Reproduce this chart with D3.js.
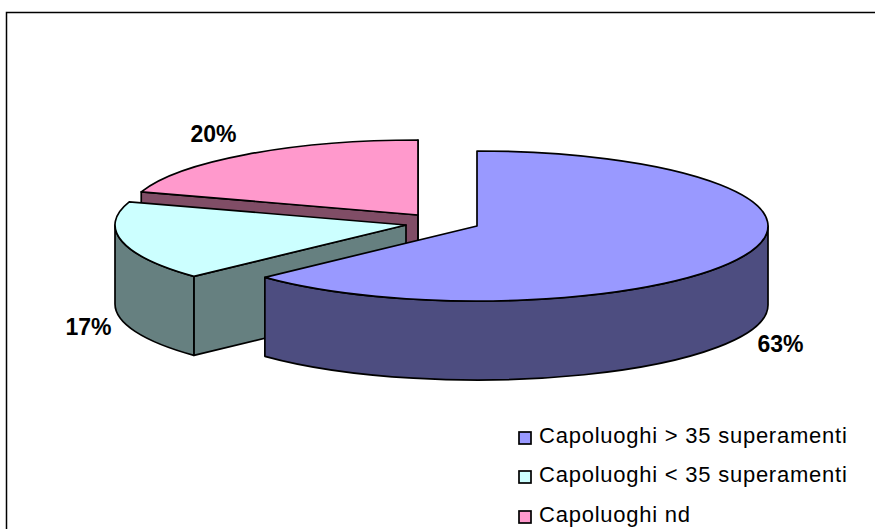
<!DOCTYPE html>
<html><head><meta charset="utf-8">
<script src="https://cdn.jsdelivr.net/npm/d3@7/dist/d3.min.js"></script>
<style>html,body{margin:0;padding:0;background:#fff}svg{display:block}</style>
</head><body><div id="chart"></div>
<script>
const categories = ["Capoluoghi > 35 superamenti","Capoluoghi < 35 superamenti","Capoluoghi nd"];
const values = [63,17,20];
const labels = ["63%","17%","20%"];
const topColors = ["#9999FF","#CCFFFF","#FF99CC"];
const wallColors = ["#4D4D80","#668080","#804D66"];

const W=875,H=529,RX=291,RY=75,DEPTH=79;
const centers=[[477,226],[406,225],[418,215]];
const labelPos=[[780.5,352],[88.5,335],[213.5,142]];
const legendY=[443,482,522];

const svg=d3.select("#chart").append("svg").attr("width",W).attr("height",H);
svg.append("path").attr("d",`M6.5,${H}V12.5H${W}`).attr("fill","none").attr("stroke","#000").attr("stroke-width",1.5);

const arcs=d3.pie().sort(null).value(d=>d)(values);
function pt(c,a,dz=0){return [c[0]+RX*Math.sin(a),c[1]-RY*Math.cos(a)+dz];}
function ell(c,a0,a1,dz,sweep){const p=pt(c,a1,dz);const large=Math.abs(a1-a0)>Math.PI?1:0;return `A${RX},${RY} 0 ${large} ${sweep} ${p[0]},${p[1]}`;}
function topPath(c,a0,a1){const s=pt(c,a0);return `M${c[0]},${c[1]}L${s[0]},${s[1]}${ell(c,a0,a1,0,1)}Z`;}
function outerWall(c,a0,a1){const s=pt(c,a0),e=pt(c,a1,DEPTH);return `M${s[0]},${s[1]}${ell(c,a0,a1,0,1)}L${e[0]},${e[1]}${ell(c,a1,a0,DEPTH,0)}Z`;}
function edgeWall(c,a){const p=pt(c,a);return `M${c[0]},${c[1]}L${p[0]},${p[1]}V${p[1]+DEPTH}L${c[0]},${c[1]+DEPTH}Z`;}

const style=(s,f)=>s.attr("fill",f).attr("stroke","#000").attr("stroke-width",1.7).attr("stroke-linejoin","round");
const g=svg.append("g");
// back to front: nd, < 35, > 35
[2,1,0].forEach(i=>{
  const a=arcs[i],c=centers[i],a0=a.startAngle,a1=a.endAngle,sl=g.append("g");
  if(i===2){style(sl.append("path").attr("d",edgeWall(c,a0)),wallColors[i]);style(sl.append("path").attr("d",edgeWall(c,a1)),wallColors[i]);}
  if(i===1){style(sl.append("path").attr("d",edgeWall(c,a0)),wallColors[i]);}
  const lo=Math.max(a0,Math.PI/2),hi=Math.min(a1,1.5*Math.PI);
  if(hi>lo) style(sl.append("path").attr("d",outerWall(c,lo,hi)),wallColors[i]);
  style(sl.append("path").attr("d",topPath(c,a0,a1)),topColors[i]);
});

const font="'Liberation Sans',Arial,sans-serif";
svg.selectAll("text.pct").data(labels).join("text").attr("class","pct")
  .attr("x",(d,i)=>labelPos[i][0]).attr("y",(d,i)=>labelPos[i][1])
  .attr("text-anchor","middle").attr("font-family",font).attr("font-weight","bold").attr("font-size",23).text(d=>d);

const leg=svg.selectAll("g.leg").data(categories).join("g").attr("class","leg");
leg.append("rect").attr("x",519).attr("y",(d,i)=>legendY[i]-11).attr("width",12).attr("height",12)
  .attr("fill",(d,i)=>topColors[i]).attr("stroke","#000").attr("stroke-width",1.7);
leg.append("text").attr("x",539).attr("y",(d,i)=>legendY[i]).attr("font-family",font).attr("font-size",22).attr("letter-spacing",0.76).attr("fill","#000").text(d=>d);
</script></body></html>
